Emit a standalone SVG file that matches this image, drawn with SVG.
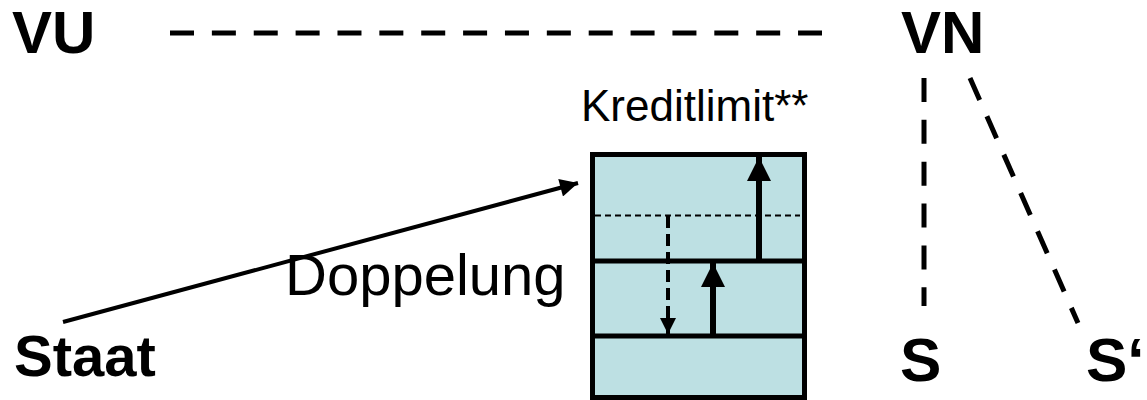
<svg xmlns="http://www.w3.org/2000/svg" width="1147" height="400" viewBox="0 0 1147 400">
<style>
.big{font-family:"Liberation Sans",Arial,sans-serif;font-weight:bold;font-size:62px;fill:#000}
.top{font-family:"Liberation Sans",Arial,sans-serif;font-weight:bold;font-size:60px;fill:#000}
.mid{font-family:"Liberation Sans",Arial,sans-serif;font-weight:bold;font-size:58px;fill:#000}
.reg{font-family:"Liberation Sans",Arial,sans-serif;font-size:58px;fill:#000}
.small{font-family:"Liberation Sans",Arial,sans-serif;font-size:44px;fill:#000}
.dash{stroke:#000;stroke-width:5;fill:none;stroke-dasharray:24 17.87}
</style>
<defs>
<marker id="ahBig" viewBox="0 0 10 10" refX="10" refY="5" markerWidth="4" markerHeight="4" orient="auto" markerUnits="strokeWidth"><path d="M0,0L10,5L0,10z" fill="#000"/></marker>
<marker id="ahLong" viewBox="0 0 10 10" refX="10" refY="5" markerWidth="5.5" markerHeight="4.5" orient="auto" markerUnits="strokeWidth"><path d="M0,0L10,5L0,10z" fill="#000"/></marker>
<marker id="ahDash" viewBox="0 0 10 10" refX="10" refY="5" markerWidth="4" markerHeight="4" orient="auto" markerUnits="strokeWidth"><path d="M0,0L10,5L0,10z" fill="#000"/></marker>
</defs>
<g id="box">
<rect x="592.5" y="154.5" width="212" height="243" fill="#bde0e3" stroke="#000" stroke-width="5"/>
<line x1="592" y1="261" x2="805" y2="261" stroke="#000" stroke-width="5"/>
<line x1="592" y1="336" x2="805" y2="336" stroke="#000" stroke-width="5"/>
<line x1="595" y1="215.5" x2="800" y2="215.5" stroke="#000" stroke-width="2" stroke-dasharray="6 4"/>
</g>
<g id="VU"><text class="top" x="12" y="53">VU</text></g>
<g id="VN"><text class="top" x="901" y="53">VN</text></g>
<g id="Staat"><text class="mid" x="14" y="376">Staat</text></g>
<g id="S"><text class="big" x="900" y="381">S</text></g>
<g id="S2"><text class="big" x="1086" y="381">S‘</text></g>
<g id="Kreditlimit"><text class="small" x="581" y="121">Kreditlimit**</text></g>
<g id="Doppelung"><text class="reg" x="285" y="295">Doppelung</text></g>
<g id="connectors">
<line class="dash" x1="170" y1="33" x2="822" y2="33"/>
<line class="dash" x1="924" y1="78" x2="924" y2="306"/>
<line class="dash" x1="970" y1="78" x2="1078" y2="323"/>
<line x1="63" y1="322" x2="578" y2="183" stroke="#000" stroke-width="4" marker-end="url(#ahLong)"/>
<line x1="759" y1="261" x2="759" y2="157" stroke="#000" stroke-width="6" marker-end="url(#ahBig)"/>
<line x1="713" y1="336" x2="713" y2="263" stroke="#000" stroke-width="6" marker-end="url(#ahBig)"/>
<line x1="668" y1="216" x2="668" y2="334" stroke="#000" stroke-width="4" stroke-dasharray="12 6" marker-end="url(#ahDash)"/>
</g>
</svg>
